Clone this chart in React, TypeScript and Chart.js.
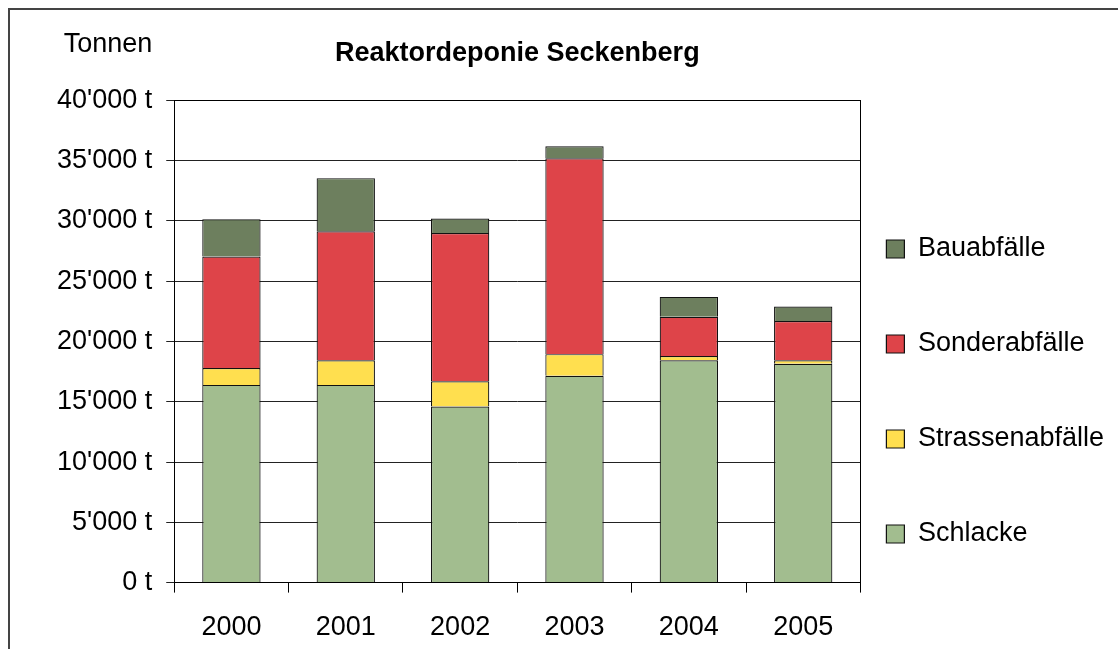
import React, { useEffect, useRef } from "react";
import { Chart, registerables } from "chart.js";

Chart.register(...registerables);

const years = ["2000", "2001", "2002", "2003", "2004", "2005"];
const schlacke = [16400, 16400, 14600, 17150, 18450, 18150];
const strassenabfaelle = [1400, 2050, 2100, 1800, 350, 300];
const sonderabfaelle = [9250, 10700, 12300, 16250, 3250, 3250];
const bauabfaelle = [3100, 4400, 1200, 1000, 1650, 1200];
const yTickLabels = ["0 t", "5'000 t", "10'000 t", "15'000 t", "20'000 t", "25'000 t", "30'000 t", "35'000 t", "40'000 t"];
const titleText = "Reaktordeponie Seckenberg";
const unitText = "Tonnen";

const FONT = "'Liberation Sans', Arial, sans-serif";

const framePlugin = {
  id: "frameAndUnit",
  afterDraw(chart: any) {
    const ctx = chart.ctx;
    const ca = chart.chartArea;
    ctx.save();
    ctx.strokeStyle = "#000";
    ctx.lineWidth = 1;
    ctx.strokeRect(Math.round(ca.left) + 0.5, Math.round(ca.top) + 0.5, Math.round(ca.right - ca.left), Math.round(ca.bottom - ca.top));
    ctx.strokeStyle = "#444";
    ctx.lineWidth = 2;
    ctx.strokeRect(9, 9, chart.width + 20, chart.height + 20);
    const ys = chart.scales.y;
    ctx.fillStyle = "#000";
    ctx.font = `27px ${FONT}`;
    ctx.textAlign = "right";
    ctx.textBaseline = "middle";
    ctx.fillText(unitText, ys.right - 22, ys.top - 56);
    ctx.restore();
  },
};

export default function App() {
  const ref = useRef<HTMLCanvasElement>(null);
  useEffect(() => {
    if (!ref.current) return;
    const border = "#111";
    const chart = new Chart(ref.current, {
      type: "bar",
      data: {
        labels: years,
        datasets: [
          { label: "Schlacke", data: schlacke, backgroundColor: "#A2BD8F", borderColor: border, borderWidth: 1.2 },
          { label: "Strassenabfälle", data: strassenabfaelle, backgroundColor: "#FFDF4F", borderColor: border, borderWidth: 1.2 },
          { label: "Sonderabfälle", data: sonderabfaelle, backgroundColor: "#DE4449", borderColor: border, borderWidth: 1.2 },
          { label: "Bauabfälle", data: bauabfaelle, backgroundColor: "#6D7F5E", borderColor: border, borderWidth: 1.2 },
        ],
      },
      options: {
        animation: false,
        responsive: true,
        maintainAspectRatio: false,
        layout: { padding: { top: 10, left: 43, right: 4, bottom: -14 } },
        datasets: { bar: { barPercentage: 0.51, categoryPercentage: 1 } },
        scales: {
          x: {
            stacked: true,
            grid: { display: true, drawOnChartArea: false, drawTicks: true, tickLength: 10, color: "#000", offset: true },
            border: { display: true, color: "#000" },
            ticks: { color: "#000", font: { family: FONT, size: 27 }, padding: 19 },
          },
          y: {
            stacked: true,
            min: 0,
            max: 40000,
            grid: { color: "#222", tickLength: 8, drawTicks: true },
            border: { display: true, color: "#000" },
            ticks: {
              stepSize: 5000,
              color: "#000",
              padding: 14,
              font: { family: FONT, size: 27 },
              callback: (_v: any, i: number) => yTickLabels[i],
            },
          },
        },
        plugins: {
          title: {
            display: true,
            text: titleText,
            fullSize: false,
            color: "#000",
            font: { family: FONT, size: 27, weight: "bold", lineHeight: 1.2 },
            padding: { top: 27, bottom: 31 },
          },
          legend: {
            display: true,
            position: "right",
            align: "center",
            reverse: true,
            title: { display: true, text: " ", font: { size: 10, lineHeight: 1.2 }, padding: { top: 70, bottom: 70 } },
            labels: {
              color: "#000",
              boxWidth: 18,
              boxHeight: 18,
              padding: 26,
              font: { family: FONT, size: 27, lineHeight: "69px" },
              generateLabels: (c: any) =>
                (Chart.defaults.plugins.legend.labels.generateLabels as any)(c).map((l: any) => ({ ...l, text: [l.text] })),
            },
          },
          tooltip: { enabled: false },
        },
      } as any,
      plugins: [framePlugin],
    });
    return () => chart.destroy();
  }, []);
  return (
    <div style={{ position: "fixed", left: 0, top: 0, width: 1118, height: 649, background: "#fff" }}>
      <canvas ref={ref} />
    </div>
  );
}
